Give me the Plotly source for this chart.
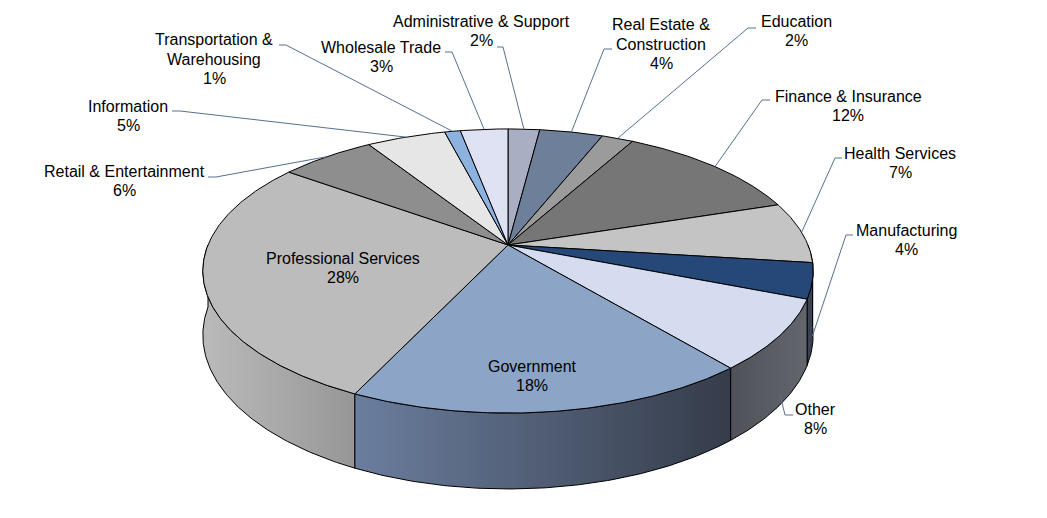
import numpy as np
import plotly.graph_objects as go

# ---------------- data ----------------
categories = ["Administrative & Support", "Real Estate & Construction", "Education",
              "Finance & Insurance", "Health Services", "Manufacturing", "Other",
              "Government", "Professional Services", "Retail & Entertainment",
              "Information", "Transportation & Warehousing", "Wholesale Trade"]
shares = [2, 4, 2, 12, 7, 4, 8, 18, 28, 6, 5, 1, 3]
label_lines = [["Administrative & Support"], ["Real Estate &", "Construction"], ["Education"],
               ["Finance & Insurance"], ["Health Services"], ["Manufacturing"], ["Other"],
               ["Government"], ["Professional Services"], ["Retail & Entertainment"],
               ["Information"], ["Transportation &", "Warehousing"], ["Wholesale Trade"]]

# ---------------- style ----------------
top_colors = ["#AAAEC2", "#6E7F9A", "#9B9B9B", "#767676", "#C4C4C4", "#264878", "#D6DCF0",
              "#8CA5C6", "#BCBCBC", "#8E8E8E", "#E6E6E6", "#8DB2E0", "#DEE2F2"]
wall_colors = [["#8A8D9C", "#8A8D9C"], ["#56637A", "#56637A"], ["#7C7C7C", "#7C7C7C"],
               ["#5E5E5E", "#5E5E5E"], ["#9C9C9C", "#9C9C9C"], ["#3A4254", "#3A4254"],
               ["#505259", "#64666E"], ["#6B7E9E", "#353C4A"], ["#BABABA", "#A9A9A9", "#969696"],
               ["#7A7A7A", "#7A7A7A"], ["#BDBDBD", "#BDBDBD"], ["#6F8FB8", "#6F8FB8"],
               ["#B8BBC8", "#B8BBC8"]]

# label layout: block centre, leader start, elbow x, leader end drop fraction
label_pos = [(481, 31), (661, 44), (796, 31), (848, 106), (900, 163), (906, 240), (815, 419),
             (532, 376), (343, 268), (124, 181), (128, 116), (214, 59), (381, 57)]
leader_start = [(497, 47), (612, 49), (756, 28), (770, 100), (842, 158), (853, 235), (793, 415),
                None, None, (208, 177), (172, 111), (279, 45), (445, 52)]
leader_elbow = [503, 604, 748, 762, 835, 846, 785, None, None, 216, 180, 286, 452]
leader_drop = [0, 0, 0, 0, 0, 0.85, 0.85, None, None, 0, 0, 0, 0]

W, H = 1047, 518
OFF = 8  # default page body margin
CX, CY = 508, 245
RX, RY, K, DEPTH = 300, 137.3, 0.183, 62
LINE_H = 19.5
FONT = "Liberation Sans, Arial, sans-serif"


def proj(theta, drop=0.0):
    theta = np.asarray(theta, dtype=float)
    u = np.sin(theta)
    v = -np.cos(theta)
    s = 1.0 / (1.0 - K * v)
    return CX + RX * u * s, CY + RY * v * s + drop * s


total = float(sum(shares))
cum = np.concatenate([[0.0], np.cumsum(shares)]) / total * 2 * np.pi
starts, ends = cum[:-1], cum[1:]

fig = go.Figure()

# ---------------- walls (side of the 3D pie) ----------------
vis_lo, vis_hi = np.pi / 2, 3 * np.pi / 2
walls = []
for i in range(len(shares)):
    lo, hi = max(starts[i], vis_lo), min(ends[i], vis_hi)
    if hi <= lo:
        continue
    t = np.linspace(lo, hi, max(3, int((hi - lo) / 0.01)))
    xt, yt = proj(t)
    xb, yb = proj(t, DEPTH)
    xs = np.concatenate([xt, xb[::-1], xt[:1]])
    ys = np.concatenate([yt, yb[::-1], yt[:1]])
    cols = wall_colors[i]
    cs = [[j / (len(cols) - 1), c] for j, c in enumerate(cols)]
    tr = go.Scatter(x=xs, y=ys, mode="lines", fill="toself",
                    line=dict(color="#000000", width=1),
                    fillcolor=cols[0],
                    fillgradient=dict(type="horizontal", colorscale=cs,
                                      start=float(xs.min()), stop=float(xs.max())),
                    hoverinfo="skip", showlegend=False)
    walls.append((float(np.mean(-np.cos(t))), tr))
for _, tr in sorted(walls, key=lambda w: w[0]):
    fig.add_trace(tr)

# ---------------- top faces ----------------
for i in range(len(shares)):
    t = np.linspace(starts[i], ends[i], max(3, int((ends[i] - starts[i]) / 0.01)))
    xa, ya = proj(t)
    xs = np.concatenate([[CX], xa, [CX]])
    ys = np.concatenate([[CY], ya, [CY]])
    fig.add_trace(go.Scatter(x=xs, y=ys, mode="lines", fill="toself",
                             fillcolor=top_colors[i],
                             line=dict(color="#000000", width=1),
                             name=categories[i],
                             text=f"{categories[i]}: {shares[i]}%", hoverinfo="text",
                             showlegend=False))

# ---------------- leader lines and labels ----------------
for i in range(len(shares)):
    lx, ly = label_pos[i]
    lines = label_lines[i] + [f"{shares[i]}%"]
    n = len(lines)
    for j, txt in enumerate(lines):
        fig.add_annotation(x=lx, y=ly + (j - (n - 1) / 2) * LINE_H, xref="x", yref="y",
                           showarrow=False, text=txt,
                           font=dict(family=FONT, size=16, color="#000000"),
                           xanchor="center", yanchor="middle", align="center")
    if leader_start[i] is None:
        continue
    mid = (starts[i] + ends[i]) / 2
    tx, ty = proj(mid, leader_drop[i] * DEPTH)
    sx, sy = leader_start[i]
    fig.add_trace(go.Scatter(x=[sx, leader_elbow[i], float(tx)], y=[sy, sy, float(ty)],
                             mode="lines", line=dict(color="#56708F", width=1),
                             hoverinfo="skip", showlegend=False))

fig.update_layout(width=W - 2 * OFF, height=H - 2 * OFF, autosize=False,
                  margin=dict(l=0, r=0, t=0, b=0),
                  paper_bgcolor="#FFFFFF", plot_bgcolor="#FFFFFF",
                  showlegend=False)
fig.update_xaxes(range=[OFF, W - OFF], visible=False, fixedrange=True)
fig.update_yaxes(range=[H - OFF, OFF], visible=False, fixedrange=True)

fig.write_html("out.html")
